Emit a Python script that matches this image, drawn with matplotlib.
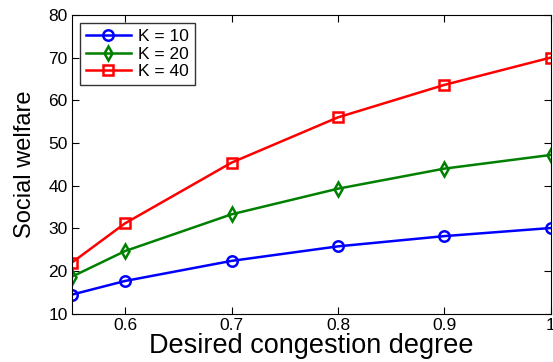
import numpy as np
import matplotlib.pyplot as plt

plt.rcParams["font.family"] = ["Liberation Sans", "DejaVu Sans"]

x = [0.55, 0.6, 0.7, 0.8, 0.9, 1.0]
k10 = [14.5, 17.7, 22.4, 25.8, 28.2, 30.1]
k20 = [18.7, 24.7, 33.3, 39.3, 44.0, 47.2]
k40 = [22.0, 31.2, 45.4, 56.0, 63.6, 70.0]
labels = ["K = 10", "K = 20", "K = 40"]

fig = plt.figure(figsize=(5.53, 3.62), dpi=100)
ax = fig.add_axes([0.130, 0.133, 0.866, 0.826])

ax.plot(x, k10, "-o", color="blue", lw=1.8, ms=7.5, mfc="none", mew=1.8, label=labels[0])
ax.plot(x, k20, "-d", color="green", lw=1.8, ms=7.5, mfc="none", mew=1.8, label=labels[1])
ax.plot(x, k40, "-s", color="red", lw=1.8, ms=6.5, mfc="none", mew=1.8, label=labels[2])

ax.set_xlim(0.55, 1.0)
ax.set_ylim(10, 80)
ax.set_xticks([0.6, 0.7, 0.8, 0.9, 1.0])
ax.set_xticklabels(["0.6", "0.7", "0.8", "0.9", "1"])
ax.set_yticks(range(10, 81, 10))
ax.tick_params(direction="in", top=True, right=True, labelsize=12.5, length=5, pad=3)
ax.set_xlabel("Desired congestion degree", fontsize=19.5, labelpad=0)
ax.set_ylabel("Social welfare", fontsize=17, labelpad=9)

leg = ax.legend(loc="upper left", fontsize=12.5, fancybox=False, edgecolor="black",
                handlelength=2.6, borderaxespad=0.45, labelspacing=0.15, borderpad=0.35,
                handletextpad=0.4)
leg.get_frame().set_linewidth(1.0)

fig.savefig("out.png", dpi=100)
